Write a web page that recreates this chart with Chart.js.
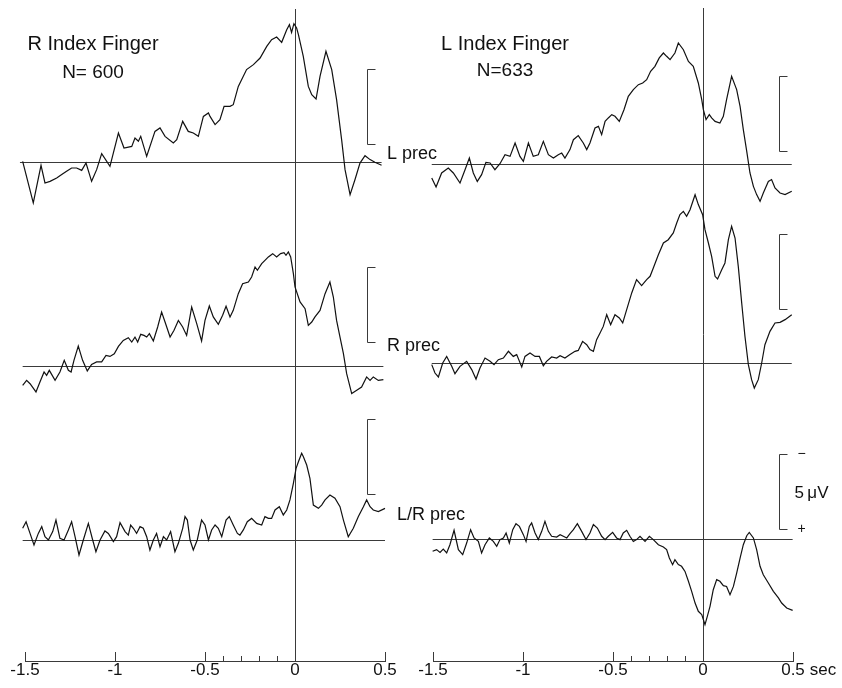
<!DOCTYPE html>
<html>
<head>
<meta charset="utf-8">
<title>Readiness potential - index finger movements</title>
<script src="https://cdn.jsdelivr.net/npm/chart.js@4.4.1/dist/chart.umd.min.js"></script>
<style>
  html, body { margin: 0; padding: 0; background: #fff; }
  #page { position: relative; width: 842px; height: 688px; overflow: hidden; }
  canvas { position: absolute; top: 0; }
  #left { left: 0; }
  #right { left: 410px; }
</style>
</head>
<body>
<div id="page">
  <canvas id="left" width="480" height="688"></canvas>
  <canvas id="right" width="432" height="688"></canvas>
</div>
<script>
// time axis in s, 0 = onset of the finger movement
const X_TICKS = [-1.5, -1, -0.5, 0, 0.5];
const X_TICK_LABELS = ['-1.5', '-1', '-0.5', '0', '0.5'];
const X_MINOR_TICKS = [-0.4, -0.3, -0.2, -0.1];

const ROW_LABELS = ['L prec', 'R prec', 'L/R prec'];
const CAL_UV = 5; // calibration bar

// ---- R index finger, N = 600 (uV, negativity plotted up) ----
const rLPrecT = [
  -1.528,-1.513,-1.454,-1.411,-1.389,-1.361,-1.324,-1.296,-1.269,-1.241,
  -1.213,-1.185,-1.161,-1.130,-1.102,-1.074,-1.028,-0.981,-0.950,-0.907,
  -0.889,-0.870,-0.857,-0.824,-0.778,-0.750,-0.722,-0.676,-0.657,-0.624,
  -0.593,-0.565,-0.537,-0.509,-0.481,-0.472,-0.444,-0.417,-0.394,-0.361,
  -0.343,-0.315,-0.269,-0.231,-0.194,-0.157,-0.130,-0.102,-0.074,-0.046,
  -0.031,-0.019,-0.006,0.009,0.019,0.046,0.074,0.093,0.117,0.139,
  0.172,0.204,0.231,0.259,0.278,0.306,0.333,0.361,0.389,0.417,
  0.444,0.481];
const rLPrecV = [
  0.73,-0.04,2.73,0.22,1.40,1.29,1.07,0.84,0.62,0.40,
  0.40,0.56,0.07,1.29,0.51,-0.56,0.29,-1.93,-0.93,-1.04,
  -1.60,-1.38,-1.71,-0.38,-2.04,-2.27,-1.71,-1.27,-1.49,-2.71,
  -2.04,-1.93,-1.71,-3.04,-3.27,-3.04,-2.49,-2.82,-3.71,-3.71,
  -3.82,-5.04,-6.16,-6.49,-6.93,-7.71,-8.16,-8.33,-7.98,-8.82,
  -9.16,-8.64,-9.22,-8.93,-8.49,-7.04,-5.04,-4.49,-4.20,-5.71,
  -7.38,-6.16,-4.16,-1.49,0.51,2.18,1.18,0.07,-0.42,-0.16,
  0.02,0.22];

const rRPrecT = [
  -1.513,-1.491,-1.472,-1.439,-1.417,-1.394,-1.380,-1.365,-1.352,-1.333,
  -1.306,-1.282,-1.259,-1.244,-1.228,-1.204,-1.180,-1.154,-1.130,-1.102,
  -1.074,-1.050,-1.028,-1.004,-0.981,-0.954,-0.926,-0.907,-0.889,-0.874,
  -0.857,-0.839,-0.824,-0.809,-0.787,-0.763,-0.741,-0.722,-0.694,-0.672,
  -0.648,-0.624,-0.602,-0.574,-0.546,-0.519,-0.500,-0.476,-0.454,-0.426,
  -0.402,-0.383,-0.361,-0.343,-0.315,-0.291,-0.259,-0.241,-0.222,-0.209,
  -0.185,-0.167,-0.148,-0.124,-0.102,-0.080,-0.061,-0.050,-0.037,-0.024,
  -0.009,0.000,0.028,0.056,0.074,0.093,0.111,0.139,0.167,0.194,
  0.213,0.231,0.250,0.269,0.287,0.315,0.343,0.370,0.398,0.417,
  0.435,0.463,0.491];
const rRPrecV = [
  1.29,0.96,1.18,1.73,1.07,0.40,0.62,0.29,0.56,0.96,
  0.40,-0.38,0.29,0.40,-0.38,-1.33,-0.38,0.33,-0.11,-0.27,
  -0.27,-0.71,-0.64,-0.82,-1.31,-1.71,-1.89,-1.60,-1.93,-1.60,
  -2.11,-2.04,-1.93,-2.16,-1.67,-2.60,-3.60,-2.93,-1.93,-2.38,
  -3.04,-2.60,-2.04,-3.93,-2.82,-1.67,-3.04,-4.00,-3.27,-2.78,
  -3.38,-3.98,-3.27,-3.71,-4.82,-5.49,-5.60,-5.93,-6.60,-6.38,
  -6.82,-7.04,-7.27,-7.49,-7.27,-7.49,-7.56,-7.38,-7.60,-7.27,
  -6.16,-5.27,-4.27,-3.82,-2.71,-2.93,-3.27,-3.71,-4.82,-5.60,
  -4.60,-3.04,-1.93,-0.82,0.51,1.84,1.62,1.40,0.73,0.96,
  0.73,0.96,0.91];

const rDiffT = [
  -1.513,-1.494,-1.472,-1.450,-1.426,-1.407,-1.389,-1.370,-1.346,-1.328,
  -1.306,-1.283,-1.259,-1.241,-1.222,-1.200,-1.176,-1.148,-1.124,-1.106,
  -1.083,-1.056,-1.037,-1.009,-0.991,-0.972,-0.944,-0.926,-0.913,-0.898,
  -0.880,-0.861,-0.843,-0.824,-0.806,-0.787,-0.769,-0.750,-0.731,-0.713,
  -0.691,-0.667,-0.648,-0.624,-0.611,-0.598,-0.583,-0.565,-0.543,-0.519,
  -0.500,-0.481,-0.463,-0.444,-0.426,-0.407,-0.383,-0.365,-0.343,-0.320,
  -0.306,-0.287,-0.265,-0.241,-0.213,-0.185,-0.167,-0.148,-0.130,-0.111,
  -0.087,-0.065,-0.046,-0.028,-0.009,0.006,0.019,0.037,0.046,0.065,
  0.083,0.102,0.130,0.148,0.167,0.194,0.222,0.250,0.269,0.296,
  0.324,0.352,0.380,0.398,0.417,0.435,0.463,0.500];
const rDiffV = [
  -0.78,-1.22,-0.44,0.33,-0.44,-0.89,-0.22,0.00,-0.56,-1.33,
  -0.11,0.00,-0.67,-1.22,-0.22,1.00,0.00,-1.11,0.00,0.78,
  0.00,-0.60,-0.44,0.11,-0.22,-1.16,-0.56,-0.33,-1.00,-0.78,
  -0.44,-0.89,-0.78,-0.22,0.67,0.00,-0.44,0.44,-0.22,0.00,
  -0.56,0.78,0.22,-0.78,-1.56,-1.33,0.00,0.67,0.00,-1.33,
  -1.00,0.00,-0.67,-1.00,-0.78,-0.22,-1.33,-1.56,-1.00,-0.44,
  -0.33,-0.67,-1.22,-1.44,-1.11,-1.00,-1.56,-1.44,-1.44,-2.00,
  -2.22,-1.67,-2.00,-2.67,-3.78,-4.78,-5.22,-5.78,-5.56,-5.00,
  -4.11,-2.33,-2.11,-2.33,-2.67,-3.00,-2.78,-2.22,-1.33,-0.22,
  -0.78,-1.56,-2.22,-2.67,-2.22,-2.00,-1.89,-2.11];

// ---- L index finger, N = 633 ----
const lLPrecT = [
  -1.507,-1.483,-1.452,-1.415,-1.387,-1.350,-1.322,-1.298,-1.276,-1.254,
  -1.230,-1.206,-1.183,-1.156,-1.128,-1.100,-1.072,-1.044,-1.017,-0.998,
  -0.970,-0.943,-0.915,-0.887,-0.859,-0.831,-0.804,-0.785,-0.767,-0.739,
  -0.720,-0.693,-0.665,-0.646,-0.628,-0.600,-0.581,-0.563,-0.544,-0.526,
  -0.507,-0.489,-0.465,-0.439,-0.415,-0.387,-0.359,-0.335,-0.313,-0.291,
  -0.267,-0.243,-0.220,-0.202,-0.183,-0.156,-0.137,-0.109,-0.081,-0.054,
  -0.026,-0.007,0.002,0.017,0.035,0.048,0.067,0.094,0.113,0.131,
  0.159,0.187,0.206,0.224,0.243,0.261,0.280,0.298,0.317,0.335,
  0.363,0.381,0.400,0.428,0.456,0.493];
const lLPrecV = [
  0.93,1.53,0.60,0.27,0.60,1.27,0.38,-0.40,0.60,1.16,
  0.71,-0.11,-0.07,0.38,-0.02,-0.62,-0.51,-1.40,-0.51,-0.18,
  -1.40,-0.51,-0.62,-1.51,-0.62,-0.40,-0.62,-0.73,-0.40,-0.96,
  -1.62,-1.89,-1.40,-0.96,-1.40,-2.40,-2.51,-1.96,-2.84,-3.07,
  -3.29,-3.18,-2.84,-3.62,-4.51,-4.96,-5.29,-5.40,-5.62,-6.18,
  -6.51,-7.07,-7.40,-7.18,-6.96,-7.40,-8.07,-7.62,-6.84,-6.51,
  -5.40,-4.29,-3.62,-2.96,-3.29,-3.07,-2.84,-2.73,-3.18,-4.29,
  -5.84,-4.96,-3.84,-2.29,-0.84,0.60,1.49,2.04,2.49,1.93,
  1.16,1.04,1.60,1.93,2.04,1.82];

const lRPrecT = [
  -1.507,-1.489,-1.470,-1.446,-1.424,-1.396,-1.378,-1.350,-1.313,-1.285,
  -1.261,-1.239,-1.211,-1.183,-1.161,-1.137,-1.109,-1.081,-1.054,-1.035,
  -1.007,-0.989,-0.961,-0.933,-0.909,-0.887,-0.869,-0.841,-0.813,-0.794,
  -0.767,-0.739,-0.711,-0.693,-0.669,-0.646,-0.628,-0.609,-0.591,-0.572,
  -0.554,-0.535,-0.513,-0.489,-0.465,-0.446,-0.424,-0.396,-0.369,-0.341,
  -0.313,-0.294,-0.276,-0.248,-0.220,-0.193,-0.165,-0.146,-0.128,-0.109,
  -0.091,-0.072,-0.044,-0.026,-0.002,0.011,0.030,0.048,0.067,0.081,
  0.104,0.122,0.141,0.159,0.178,0.196,0.215,0.233,0.252,0.270,
  0.285,0.307,0.326,0.344,0.372,0.400,0.428,0.456,0.493];
const lRPrecV = [
  0.11,0.67,0.93,0.00,-0.44,0.22,0.71,0.22,-0.11,0.44,
  1.07,0.33,-0.33,-0.11,0.11,-0.22,-0.33,-0.78,-0.44,-0.56,
  0.27,-0.44,-0.67,-0.44,-0.44,0.18,-0.11,-0.40,-0.33,-0.49,
  -0.33,-0.56,-0.78,-0.84,-1.44,-1.22,-0.89,-0.78,-1.56,-2.00,
  -2.44,-3.22,-2.56,-3.22,-3.00,-2.67,-3.56,-4.67,-5.56,-5.16,
  -5.56,-5.78,-6.33,-7.22,-8.00,-8.22,-8.67,-9.33,-9.89,-10.11,
  -9.78,-10.22,-11.22,-10.56,-9.89,-8.89,-8.00,-7.11,-5.78,-5.60,
  -6.22,-6.67,-8.22,-9.11,-8.33,-6.44,-4.00,-1.78,0.11,1.11,
  1.67,1.11,0.00,-1.22,-2.11,-2.67,-2.71,-2.89,-3.22];

const lDiffT = [
  -1.502,-1.480,-1.461,-1.443,-1.424,-1.406,-1.383,-1.359,-1.335,-1.313,
  -1.291,-1.272,-1.248,-1.230,-1.211,-1.187,-1.165,-1.146,-1.128,-1.109,
  -1.094,-1.076,-1.057,-1.039,-1.020,-0.998,-0.983,-0.965,-0.952,-0.933,
  -0.915,-0.896,-0.878,-0.859,-0.841,-0.813,-0.794,-0.776,-0.757,-0.739,
  -0.720,-0.698,-0.674,-0.650,-0.628,-0.609,-0.587,-0.563,-0.544,-0.526,
  -0.502,-0.480,-0.461,-0.443,-0.424,-0.406,-0.387,-0.369,-0.350,-0.322,
  -0.298,-0.276,-0.248,-0.220,-0.202,-0.187,-0.169,-0.156,-0.137,-0.119,
  -0.100,-0.081,-0.063,-0.044,-0.026,-0.007,0.011,0.024,0.039,0.057,
  0.076,0.094,0.113,0.131,0.150,0.169,0.187,0.206,0.224,0.243,
  0.257,0.280,0.298,0.317,0.335,0.363,0.391,0.419,0.437,0.465,
  0.498];
const lDiffV = [
  0.82,0.71,0.89,0.67,0.93,0.38,-0.58,0.71,1.04,0.27,
  -0.62,-0.07,0.16,0.93,0.38,-0.07,0.16,0.49,0.04,-0.07,
  -0.40,0.27,-0.62,-1.02,-0.84,-0.29,0.16,-0.84,-1.07,-0.40,
  0.04,-0.51,-1.18,-0.51,-0.18,-0.13,-0.29,-0.18,-0.07,-0.36,
  -0.62,-1.02,-0.51,0.04,-0.40,-0.96,-0.73,-0.18,0.04,-0.18,
  -0.44,-0.07,0.04,-0.40,-0.58,-0.18,0.16,0.04,-0.18,0.16,
  -0.18,0.04,0.38,0.53,0.71,1.27,1.71,1.38,1.71,1.82,
  2.16,2.82,3.49,4.27,4.82,5.04,5.71,5.16,4.49,3.38,
  2.71,2.82,3.11,3.16,3.71,3.16,2.27,1.27,0.38,-0.22,
  -0.44,-0.07,0.71,1.82,2.38,2.93,3.49,3.93,4.27,4.60,
  4.76];

// ---- layout ----
const FONT = '"Liberation Sans", Arial, sans-serif';
const INK = '#111';
const RULE = '#3a3a3a';
const PX_PER_UV = 15;   // 5 uV bar is 75 px tall
const AXIS_PX = 661;    // time axis line

const COLUMNS = [
  {
    id: 'left',
    title: ['R Index Finger', 'N= 600'],
    titleT: -1.122, titleY: [50, 78],
    rows: [[rLPrecT, rLPrecV], [rRPrecT, rRPrecV], [rDiffT, rDiffV]],
    zeroPx: [162, 366, 540],
    padding: { left: 25, right: 95 },
    onsetTop: 9,
    calT: 0.4, calBottomUv: [-1.2, -1.6, -3.1],
    rowLabels: true
  },
  {
    id: 'right',
    title: ['L Index Finger', 'N=633'],
    titleT: -1.1, titleY: [50, 76],
    rows: [[lLPrecT, lLPrecV], [lRPrecT, lRPrecV], [lDiffT, lDiffV]],
    zeroPx: [164, 363, 539],
    padding: { left: 23, right: 49 },
    onsetTop: 8,
    calT: 0.422, calBottomUv: [-0.9, -3.6, -0.7],
    unitBar: 2
  }
];

function decorPlugin(col) {
  return {
    id: 'decor',
    beforeDatasetsDraw(chart) {
      const { ctx, chartArea, scales } = chart;
      const xs = scales.x;
      ctx.save();
      ctx.strokeStyle = RULE;
      ctx.lineWidth = 1;
      // zero line of each row
      col.rows.forEach(([t], i) => {
        const y = Math.round(scales['y' + i].getPixelForValue(0)) + 0.5;
        ctx.beginPath();
        ctx.moveTo(xs.getPixelForValue(t[0]), y);
        ctx.lineTo(xs.getPixelForValue(t[t.length - 1]), y);
        ctx.stroke();
      });
      // movement onset
      const x0 = Math.round(xs.getPixelForValue(0)) + 0.5;
      ctx.beginPath();
      ctx.moveTo(x0, chartArea.top + col.onsetTop);
      ctx.lineTo(x0, chartArea.bottom);
      ctx.stroke();
      // tick marks standing up from the time axis
      const yb = chartArea.bottom;
      X_TICKS.concat(X_MINOR_TICKS).forEach(v => {
        const len = X_TICKS.includes(v) ? 9 : 5;
        const x = Math.round(xs.getPixelForValue(v)) + 0.5;
        ctx.beginPath();
        ctx.moveTo(x, yb);
        ctx.lineTo(x, yb - len);
        ctx.stroke();
      });
      ctx.restore();
    },
    afterDraw(chart) {
      const { ctx, scales } = chart;
      const xs = scales.x;
      ctx.save();
      ctx.strokeStyle = RULE;
      ctx.lineWidth = 1;
      ctx.fillStyle = INK;
      // calibration brackets
      const xc = Math.round(xs.getPixelForValue(col.calT)) + 0.5;
      col.calBottomUv.forEach((b, i) => {
        const ys = scales['y' + i];
        const y1 = Math.round(ys.getPixelForValue(b)) + 0.5;
        const y0 = Math.round(ys.getPixelForValue(b - CAL_UV)) + 0.5;
        ctx.beginPath();
        ctx.moveTo(xc + 8, y0);
        ctx.lineTo(xc, y0);
        ctx.lineTo(xc, y1);
        ctx.lineTo(xc + 8, y1);
        ctx.stroke();
        if (col.unitBar === i) {
          ctx.font = '17px ' + FONT;
          ctx.textAlign = 'left';
          ctx.textBaseline = 'middle';
          ctx.fillText('5\u2009\u03bcV', xc + 15, (y0 + y1) / 2 + 1);
          ctx.font = '14px ' + FONT;
          ctx.textAlign = 'center';
          ctx.fillText('\u2212', xc + 22, y0);
          ctx.fillText('+', xc + 22, y1);
        }
      });
      // titles
      const xt = xs.getPixelForValue(col.titleT);
      ctx.textAlign = 'center';
      ctx.textBaseline = 'alphabetic';
      ctx.font = '20px ' + FONT;
      ctx.fillText(col.title[0], xt, col.titleY[0]);
      ctx.font = '19px ' + FONT;
      ctx.fillText(col.title[1], xt, col.titleY[1]);
      // derivation labels between the columns
      if (col.rowLabels) {
        const labelT = [0.511, 0.511, 0.567];
        const labelUv = [-0.2, -1.0, -1.35];
        ctx.font = '18px ' + FONT;
        ctx.textAlign = 'left';
        ROW_LABELS.forEach((s, i) => {
          ctx.fillText(s, xs.getPixelForValue(labelT[i]), scales['y' + i].getPixelForValue(labelUv[i]));
        });
      }
      // unit of the time axis
      if (col.id === 'right') {
        ctx.font = '17px ' + FONT;
        ctx.textAlign = 'left';
        ctx.textBaseline = 'middle';
        const x = xs.getPixelForValue(0.5) + ctx.measureText('0.5').width / 2 + 5;
        ctx.fillText('sec', x, AXIS_PX + 9);
      }
      ctx.restore();
    }
  };
}

function buildColumn(col) {
  const scales = {
    x: {
      type: 'linear',
      position: 'bottom',
      min: -1.5,
      max: 0.5,
      afterBuildTicks: s => { s.ticks = X_TICKS.map(v => ({ value: v })); },
      afterFit: s => { s.height = 688 - AXIS_PX; },
      grid: { display: false, drawTicks: false },
      border: { display: true, color: RULE, width: 1 },
      ticks: {
        color: INK,
        font: { family: FONT, size: 17, lineHeight: 1 },
        padding: 1,
        maxRotation: 0,
        autoSkip: false,
        callback: (v) => X_TICK_LABELS[X_TICKS.indexOf(v)]
      }
    }
  };
  col.zeroPx.forEach((z, i) => {
    scales['y' + i] = {
      type: 'linear',
      display: false,
      reverse: true,           // negativity up
      min: -z / PX_PER_UV,
      max: (AXIS_PX - z) / PX_PER_UV
    };
  });

  const datasets = col.rows.map(([t, v], i) => ({
    data: t.map((x, k) => ({ x: x, y: v[k] })),
    yAxisID: 'y' + i,
    borderColor: INK,
    borderWidth: 1.2,
    pointRadius: 0,
    tension: 0,
    fill: false,
    clip: false
  }));

  return new Chart(document.getElementById(col.id), {
    type: 'line',
    data: { datasets },
    options: {
      responsive: false,
      animation: false,
      events: [],
      layout: { padding: { top: 0, bottom: 0, left: col.padding.left, right: col.padding.right } },
      plugins: { legend: { display: false }, tooltip: { enabled: false } },
      scales
    },
    plugins: [decorPlugin(col)]
  });
}

COLUMNS.forEach(buildColumn);
</script>
</body>
</html>
